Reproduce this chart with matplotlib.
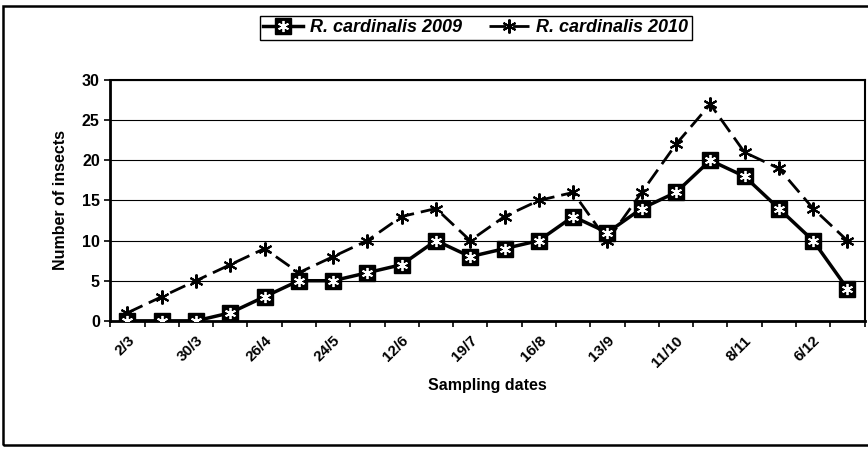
import numpy as np
import matplotlib.pyplot as plt
from matplotlib.patches import Rectangle

plt.rcParams['font.family'] = ['Liberation Sans', 'DejaVu Sans']

# Dados
datas = ['2/3', '', '30/3', '', '26/4', '', '24/5', '', '12/6', '', '19/7', '',
         '16/8', '', '13/9', '', '11/10', '', '8/11', '', '6/12', '']
insetos_2009 = [0, 0, 0, 1, 3, 5, 5, 6, 7, 10, 8, 9, 10, 13, 11, 14, 16, 20, 18, 14, 10, 4]
insetos_2010 = [1, 3, 5, 7, 9, 6, 8, 10, 13, 14, 10, 13, 15, 16, 10, 16, 22, 27, 21, 19, 14, 10]

n = len(datas)
x = np.arange(n)

fig = plt.figure(figsize=(8.68, 4.5), dpi=100)
ax = fig.add_axes([0.127, 0.287, 0.869, 0.535])

ax.plot(x, insetos_2010, color='black', lw=2, dashes=(6, 2.5),
        marker=(6, 2, 0), ms=10, mew=1.5, zorder=3)
ax.plot(x, insetos_2009, color='black', lw=2.5,
        marker='s', ms=11, mfc='black', mec='black', zorder=4)
ax.plot(x, insetos_2009, ls='none', marker=(6, 2, 0), ms=8, mec='white',
        mew=1.3, zorder=5)

# legenda com simbolos compostos
h09 = (plt.Line2D([], [], color='black', lw=2.5, marker='s', ms=11, mfc='black'),
       plt.Line2D([], [], ls='none', marker=(6, 2, 0), ms=8, mec='white', mew=1.3))
h10 = plt.Line2D([], [], color='black', lw=2, dashes=(6, 2.5), marker=(6, 2, 0),
                 ms=10, mew=1.5)
fig.legend([h09, h10], ['R. cardinalis 2009', 'R. cardinalis 2010'],
           loc='upper center', bbox_to_anchor=(0.548, 0.985), ncol=2,
           frameon=True, fancybox=False, edgecolor='black', framealpha=1,
           prop={'style': 'italic', 'weight': 'bold', 'size': 13},
           handlelength=2.2, borderpad=0.2, columnspacing=1.5, handletextpad=0.4)

ax.set_xlim(-0.5, n - 0.5)
ax.set_ylim(0, 30)
ax.set_yticks(range(0, 31, 5))
ax.set_xticks(x)
ax.set_xticklabels(datas, rotation=45, ha='right', rotation_mode='anchor',
                   fontweight='bold', fontsize=11)
ax.set_xticks(np.arange(-0.5, n, 1), minor=True)
ax.tick_params(axis='x', which='major', length=0, pad=9)
ax.tick_params(axis='x', which='minor', length=4, width=1.2, direction='out')
ax.tick_params(axis='y', length=4, width=1.2, labelsize=11.5)
for lab in ax.get_yticklabels():
    lab.set_fontweight('bold')

ax.grid(axis='y', color='black', lw=0.8)
ax.set_axisbelow(True)
for s in ['left', 'bottom']:
    ax.spines[s].set_linewidth(2)
for s in ['top', 'right']:
    ax.spines[s].set_linewidth(1.5)

ax.set_ylabel('Number of insects', fontweight='bold', fontsize=11.5, labelpad=10)
ax.set_xlabel('Sampling dates', fontweight='bold', fontsize=11.5, labelpad=6)

fig.patches.append(Rectangle((0.004, 0.012), 1.2, 0.975, transform=fig.transFigure,
                             fill=False, edgecolor='black', lw=1.8))

fig.savefig('out.png', dpi=100)
